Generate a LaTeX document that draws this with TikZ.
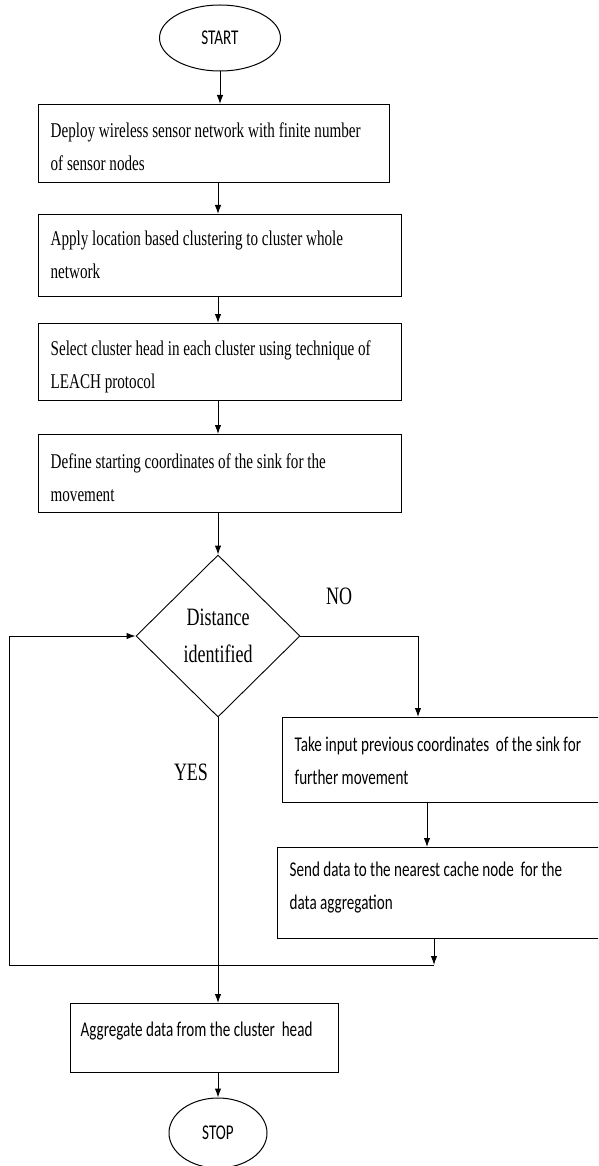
\documentclass[tikz,border=0pt]{standalone}
\usepackage{fontspec}
\newfontfamily\serfnt[FakeStretch=0.72]{Liberation Serif}
\newfontfamily\calfnt[FakeStretch=0.72]{Carlito}
\newcommand\sersp{\spaceskip 3.8pt plus 1pt minus 0.5pt\xspaceskip 3.8pt\relax}
\newcommand\calsp{\spaceskip 3.4pt plus 1pt minus 0.5pt\xspaceskip 3.4pt\relax}
\usetikzlibrary{shapes.geometric,arrows.meta}
\begin{document}
\begin{tikzpicture}[x=1pt,y=-1pt,
 box/.style={draw, line width=1.3pt, rectangle, inner xsep=12pt, inner ysep=0pt, align=left, anchor=north west, text depth=38pt},
 sertext/.style={font=\serfnt\fontsize{21}{33}\selectfont},
 caltext/.style={font=\calfnt\fontsize{21}{33}\selectfont},
 term/.style={draw, ellipse, line width=1pt, inner sep=0pt, font=\calfnt\fontsize{21}{24}\selectfont},
 arr/.style={-{Latex[length=9pt,width=6.5pt]}, line width=1pt},
 lbl/.style={font=\serfnt\fontsize{25}{28}\selectfont, inner sep=0pt}]
\useasboundingbox (0,0) rectangle (598,1166);
\clip (0,0) rectangle (598,1166);

\node[term, minimum width=121pt, minimum height=66pt] (start) at (220,38) {START};

\node[box, sertext, text width=327pt, minimum height=78pt, text height=26pt] (b1) at (38,104)
  {\sersp\mbox{Deploy wireless sensor network with finite number}\\of sensor nodes};
\node[box, sertext, text width=339pt, minimum height=82pt, text height=18pt] (b2) at (38,214)
  {\sersp\mbox{Apply location based clustering to cluster whole}\\network};
\node[box, sertext, text width=339pt, minimum height=77pt, text height=25pt] (b3) at (38,323)
  {\sersp\mbox{Select cluster head in each cluster using technique of}\\LEACH protocol};
\node[box, sertext, text width=339pt, minimum height=78pt, text height=28pt] (b4) at (38,434)
  {\sersp\mbox{Define starting coordinates of the sink for the}\\movement};

\node[draw, diamond, aspect=1, minimum width=164pt, minimum height=162pt, inner sep=0pt,
      line width=0.9pt, align=center, font=\serfnt\fontsize{25}{37}\selectfont] (dec) at (218,636)
  {Distance\\identified};

\node[box, caltext, text width=334pt, minimum height=85pt, text height=21pt] (b5) at (282,717)
  {\calsp\mbox{Take input previous coordinates\hspace{3.4pt} of the sink for}\\further movement};
\node[box, caltext, text width=339pt, minimum height=91pt, text height=7pt, text depth=40pt] (b6) at (277,847)
  {\calsp\mbox{Send data to the nearest cache node\hspace{3.4pt} for the}\\data aggregation};
\node[box, caltext, inner xsep=10pt, text width=248pt, minimum height=69pt, text height=14pt, text depth=17pt] (b7) at (70,1003)
  {\calsp\mbox{Aggregate data from the cluster\hspace{3.4pt} head}};

\node[term, minimum width=98pt, minimum height=70pt] (stop) at (218,1133) {STOP};

\node[lbl] (no) at (339,596) {NO};
\node[lbl] (yes) at (191,772) {YES};

\coordinate (cx) at (218,0);
\coordinate (nx) at (418,0);
\coordinate (mx) at (427,0);
\coordinate (jx) at (434,0);
\coordinate (jn) at (434,965);
\coordinate (lb) at (9,965);

\draw[arr] (start.south) -- (start.south |- b1.north);
\draw[arr] (cx |- b1.south) -- (cx |- b2.north);
\draw[arr] (cx |- b2.south) -- (cx |- b3.north);
\draw[arr] (cx |- b3.south) -- (cx |- b4.north);
\draw[arr] (cx |- b4.south) -- (dec.north);
\draw[arr] (dec.east) -| (nx |- b5.north);
\draw[arr] (mx |- b5.south) -- (mx |- b6.north);
\draw[arr] (jx |- b6.south) -- (jn);
\draw[arr] (jn) -- (lb) |- (dec.west);
\draw[arr] (dec.south) -- (dec.south |- b7.north);
\draw[arr] (stop.north |- b7.south) -- (stop.north);
\end{tikzpicture}
\end{document}
